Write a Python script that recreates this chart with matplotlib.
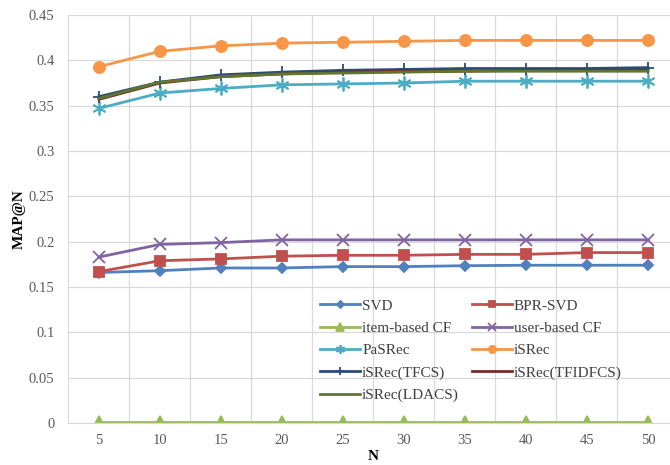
import matplotlib

matplotlib.use("Agg")

import matplotlib.pyplot as plt
import numpy as np

plt.rcParams["font.family"] = ["Liberation Serif", "DejaVu Serif"]

N = [5, 10, 15, 20, 25, 30, 35, 40, 45, 50]

svd = [0.166, 0.168, 0.171, 0.171, 0.1725, 0.1725, 0.1735, 0.174, 0.174, 0.174]
bpr_svd = [0.167, 0.179, 0.181, 0.184, 0.185, 0.185, 0.186, 0.186, 0.188, 0.188]
item_cf = [0.001, 0.001, 0.001, 0.001, 0.001, 0.001, 0.001, 0.001, 0.001, 0.001]
user_cf = [0.183, 0.197, 0.199, 0.202, 0.202, 0.202, 0.202, 0.202, 0.202, 0.202]
pasrec = [0.347, 0.364, 0.369, 0.373, 0.374, 0.375, 0.377, 0.377, 0.377, 0.377]
isrec = [0.393, 0.410, 0.416, 0.419, 0.420, 0.421, 0.422, 0.422, 0.422, 0.422]
isrec_tfcs = [0.360, 0.376, 0.384, 0.387, 0.389, 0.390, 0.391, 0.391, 0.391, 0.392]
isrec_tfidfcs = [0.357, 0.375, 0.382, 0.385, 0.387, 0.388, 0.388, 0.389, 0.389, 0.389]
isrec_ldacs = [0.358, 0.376, 0.382, 0.385, 0.386, 0.387, 0.388, 0.388, 0.388, 0.388]

y_ticks = [0, 0.05, 0.1, 0.15, 0.2, 0.25, 0.3, 0.35, 0.4, 0.45]
y_labels = ["0", "0.05", "0.1", "0.15", "0.2", "0.25", "0.3", "0.35", "0.4", "0.45"]

asterisk = (6, 2, 0)

series = [
    ("SVD", svd, "#4F81BD", "D", 5.5),
    ("BPR-SVD", bpr_svd, "#C0504D", "s", 7),
    ("item-based CF", item_cf, "#9BBB59", "^", 8),
    ("user-based CF", user_cf, "#8064A2", "x", 8),
    ("PaSRec", pasrec, "#4BACC6", asterisk, 10),
    ("iSRec", isrec, "#F79646", "o", 8),
    ("iSRec(TFCS)", isrec_tfcs, "#2C4D75", "+", 9),
    ("iSRec(TFIDFCS)", isrec_tfidfcs, "#772C2A", None, 0),
    ("iSRec(LDACS)", isrec_ldacs, "#5F7530", None, 0),
]

fig = plt.figure(figsize=(6.7, 4.65), dpi=100)
ax = fig.add_axes([0.1022, 0.0903, 0.9104, 0.8774])

handles = {}
for label, values, color, marker, ms in series:
    (h,) = ax.plot(
        N,
        values,
        color=color,
        linewidth=2.0,
        marker=marker,
        markersize=ms,
        markeredgewidth=1.3,
        label=label,
    )
    handles[label] = h

ax.set_xlim(2.5, 52.5)
ax.set_ylim(0, 0.45)
ax.set_xticks(N)
ax.set_xticks(np.arange(2.5, 53, 5), minor=True)
ax.set_yticks(y_ticks)
ax.set_yticklabels(y_labels)
ax.tick_params(which="both", length=0, colors="#595959", labelsize=10.5)
ax.tick_params(axis="y", pad=10)
ax.tick_params(axis="x", pad=8)
ax.grid(which="minor", axis="x", color="#D9D9D9", linewidth=0.9)
ax.grid(which="major", axis="y", color="#D9D9D9", linewidth=0.9)
ax.grid(which="major", axis="x", visible=False)
for side in ["top", "right", "left"]:
    ax.spines[side].set_visible(False)
ax.spines["bottom"].set_color("#D9D9D9")
ax.set_axisbelow(True)

ax.set_xlabel("N", fontweight="bold", fontsize=11, labelpad=2)
ax.set_ylabel("MAP@N", fontweight="bold", fontsize=11, labelpad=2)

order = [
    "SVD", "item-based CF", "PaSRec", "iSRec(TFCS)", "iSRec(LDACS)",
    "BPR-SVD", "user-based CF", "iSRec", "iSRec(TFIDFCS)",
]
leg = ax.legend(
    [handles[k] for k in order],
    order,
    ncol=2,
    loc="upper left",
    bbox_to_anchor=(314 / 670, 1 - 293 / 465),
    bbox_transform=fig.transFigure,
    frameon=False,
    fontsize=11,
    handlelength=2.6,
    handletextpad=0.15,
    columnspacing=0.85,
    labelspacing=0.56,
    borderaxespad=0,
    markerscale=0.65,
)
for t in leg.get_texts():
    t.set_color("#404040")

fig.savefig("out.png", dpi=100)
